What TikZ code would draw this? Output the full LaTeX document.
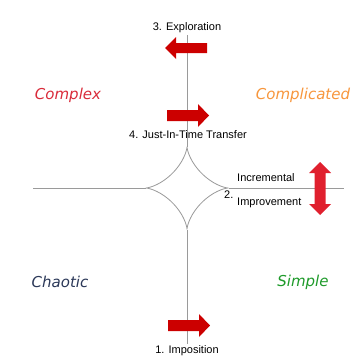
\documentclass[tikz,border=0pt]{standalone}
\usepackage{fontspec}
\setmainfont{Liberation Sans}
\newfontfamily\quadfont{DejaVu Sans}
\definecolor{axisgray}{HTML}{9A9A9A}
\definecolor{arrowred}{HTML}{CC0000}
\definecolor{brightred}{HTML}{E0202E}
\definecolor{complexred}{HTML}{D92B3A}
\definecolor{complorange}{HTML}{F7963C}
\definecolor{chaosnavy}{HTML}{2B3858}
\definecolor{simplegreen}{HTML}{1E9A2A}
\tikzset{
  axis/.style={draw=axisgray, line width=0.9pt},
  quad/.style={font=\quadfont\itshape\fontsize{15}{18}\selectfont},
  steplabel/.style={font=\fontsize{11}{13}\selectfont, text=black, inner sep=0pt},
  fatarrow/.style={fill=arrowred, draw=none},
}
\begin{document}
\begin{tikzpicture}[x=1pt, y=-1pt]
  \useasboundingbox (0,0) rectangle (354,356);
  % axis end points and the cusps of the central astroid
  \coordinate (top) at (187,35);
  \coordinate (bottom) at (187,344);
  \coordinate (left) at (33,188);
  \coordinate (right) at (344,188);
  \coordinate (cn) at (187,146.5);
  \coordinate (cs) at (187,229.5);
  \coordinate (cw) at (145.5,188);
  \coordinate (ce) at (228.5,188);
  \draw[axis] (top) -- (cn);
  \draw[axis] (cs) -- (bottom);
  \draw[axis] (left) -- (cw);
  \draw[axis] (ce) -- (right);
  % astroid between the cusps
  \draw[draw=axisgray, line width=0.8pt, shift={(187,188)}]
    plot[domain=0:360, samples=200, smooth] ({41.5*cos(\x)^3}, {41.5*sin(\x)^3});

  % quadrant names
  \node[quad, text=complexred] (complex) at (68,95) {Complex};
  \node[quad, text=complorange] (complicated) at (303,95) {Complicated};
  \node[quad, text=chaosnavy] (chaotic) at (60,282) {Chaotic};
  \node[quad, text=simplegreen] (simple) at (303,282) {Simple};

  % step labels
  \node[steplabel] (exploration) at (187,28) {3. Exploration};
  \node[steplabel] (jit) at (188,135) {4. Just-In-Time Transfer};
  \node[steplabel, anchor=west] (two) at (224,195) {2.};
  \node[steplabel, anchor=west] (incr) at (237,178) {Incremental};
  \node[steplabel, anchor=west] (impr) at (237,203) {Improvement};
  \node[steplabel] (imposition) at (187,351) {1. Imposition};

  % block arrows
  \fill[fatarrow] (207,43) -- (176,43) -- (176,37) -- (165,48) -- (176,59) -- (176,53) -- (207,53) -- cycle;
  \fill[fatarrow] (167,110) -- (198,110) -- (198,104) -- (209,115.5) -- (198,127) -- (198,121) -- (167,121) -- cycle;
  \fill[fatarrow] (168,320) -- (199,320) -- (199,314) -- (210,325.5) -- (199,337) -- (199,331) -- (168,331) -- cycle;
  \fill[brightred] (320,162) -- (331,173) -- (325.5,173) -- (325.5,204) -- (331,204) -- (320,215)
    -- (309,204) -- (314.5,204) -- (314.5,173) -- (309,173) -- cycle;
\end{tikzpicture}
\end{document}
